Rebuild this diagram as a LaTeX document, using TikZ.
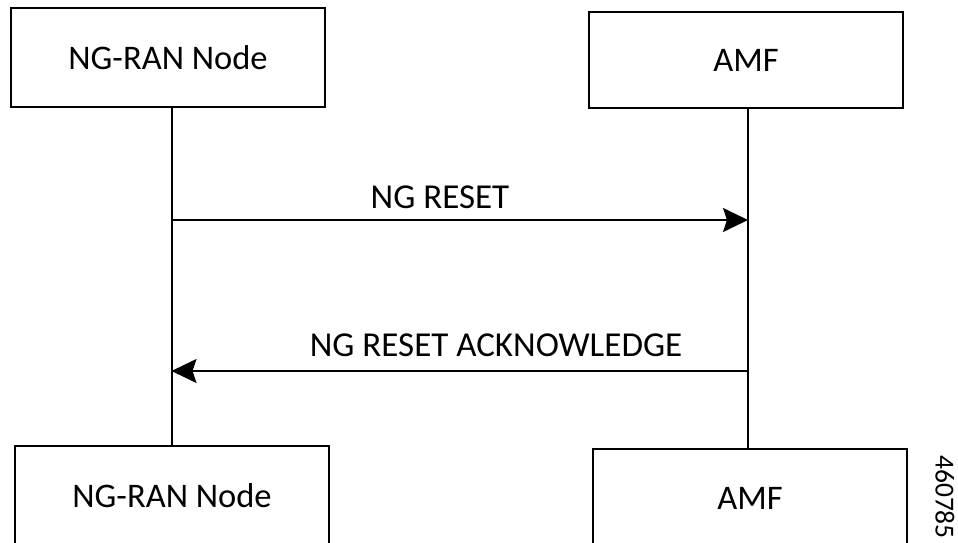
\documentclass[tikz,border=0pt]{standalone}
\usepackage{fontspec}
\setmainfont{Carlito}
\usetikzlibrary{arrows.meta}
\begin{document}
\begin{tikzpicture}[x=1pt,y=-1pt,
  entity/.style={draw,line width=2pt,minimum width=314pt,inner sep=0pt,font=\fontsize{34.5}{41}\selectfont},
  life/.style={line width=2pt},
  msg/.style={line width=2pt,-{Stealth[length=25pt,width=24pt,inset=4pt]}},
  lbl/.style={font=\fontsize{35}{42}\selectfont}]
\useasboundingbox (0,0) rectangle (958,543);
\node[entity,minimum height=99pt] (tl) at (168,57.5) {NG-RAN Node};
\node[entity,minimum height=96pt] (tr) at (746,60) {AMF};
\node[entity,minimum height=100pt] (bl) at (172,496) {NG-RAN Node};
\node[entity,minimum height=98pt] (br) at (750,498) {AMF};
\coordinate (l1) at (171.5,220);
\coordinate (r1) at (748,220);
\coordinate (l2) at (171.5,371);
\coordinate (r2) at (748,371);
\draw[life] (tl.south -| l1) -- (bl.north -| l1);
\draw[life] (tr.south -| r1) -- (br.north -| r1);
\draw[msg] (l1) -- (r1);
\draw[msg] (r2) -- (l2);
\node[lbl] (m1) at (440,197) {NG RESET};
\node[lbl] (m2) at (496,345) {NG RESET ACKNOWLEDGE};
\node[rotate=-90,font=\fontsize{27.5}{32}\selectfont] (id) at (945,497) {460785};
\end{tikzpicture}
\end{document}
